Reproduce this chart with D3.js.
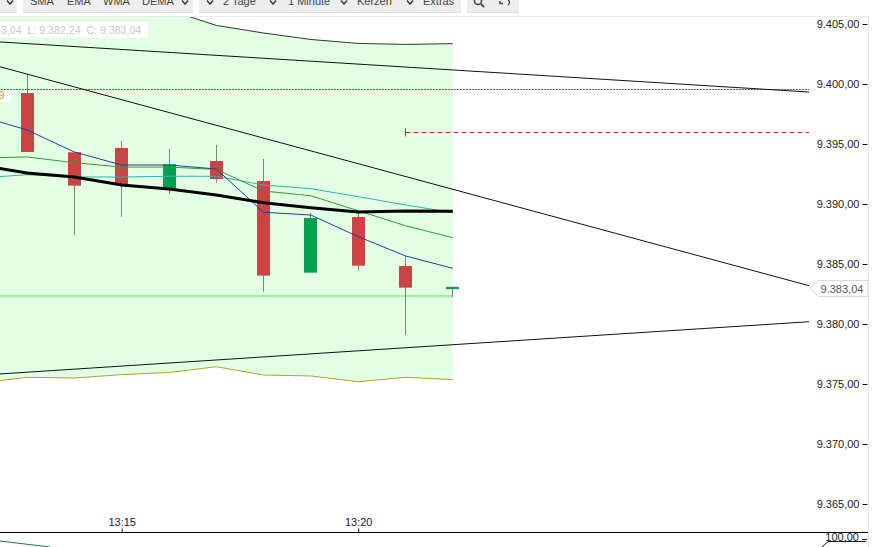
<!DOCTYPE html>
<html><head><meta charset="utf-8">
<style>
html,body{margin:0;padding:0;background:#fff;overflow:hidden}
svg{display:block;font-family:"Liberation Sans",Arial,sans-serif;font-size:11px}
</style>
<script src="https://cdn.jsdelivr.net/npm/d3@7"></script>
</head><body><svg id="c" width="878" height="547"></svg>
<script>
// ---- data ----
const candleTimes = ["13:13","13:14","13:15","13:16","13:17","13:18","13:19","13:20","13:21","13:22"];
const opens  = [9399.25,9394.31,9394.67,9391.25,9393.58,9391.92,9384.28,9388.92,9384.83,9383.10];
const highs  = [9400.83,9394.31,9395.25,9394.58,9394.92,9393.75,9389.25,9389.33,9385.69,9383.10];
const lows   = [9394.33,9387.42,9388.94,9390.83,9391.78,9382.69,9384.28,9384.44,9379.08,9382.24];
const closes = [9394.33,9391.53,9391.63,9393.31,9392.08,9384.03,9388.83,9384.86,9383.03,9383.04];

const lineTimes = ["13:12","13:13","13:14","13:15","13:16","13:17","13:18","13:19","13:20","13:21","13:22"];
const maBlue  = [9397.33,9396.17,9394.33,9393.25,9393.25,9392.92,9389.31,9389.08,9387.28,9385.67,9384.64];
const maGreen = [9393.83,9393.92,9393.44,9393.08,9393.08,9392.88,9391.08,9390.69,9389.44,9388.19,9387.19];
const maCyan  = [9392.17,9392.44,9392.25,9392.25,9392.31,9392.31,9391.58,9391.28,9390.61,9389.92,9389.28];
const maBlack = [9393.25,9392.58,9392.25,9391.58,9391.25,9390.75,9390.11,9389.69,9389.33,9389.42,9389.39];
const bandUpper = [9412.0,9411.0,9410.0,9408.0,9406.17,9404.88,9404.25,9403.71,9403.38,9403.30,9403.36];
const bandLower = [9375.08,9375.56,9375.50,9375.78,9375.96,9376.44,9375.75,9375.67,9375.19,9375.56,9375.36];

const trendTimes = ["13:12:00","13:29:32"];
const trendA = [9403.61,9399.33];
const trendB = [9401.89,9383.19];
const trendC = [9375.73,9380.19];

const levelGreen = 9382.33, levelDotted = 9399.54, levelDashed = 9395.97;
const levelDashedStart = "13:21:00", chartEnd = "13:29:32", levelGreenEnd = "13:22:00", levelStart = "13:12:00";
const lastPrice = 9383.04;
const priceTicks = [9405,9400,9395,9390,9385,9380,9375,9370,9365];
const timeTicks = ["13:15","13:20"];
const ohlcText = "3,04  L: 9.382,24  C: 9.383,04";
const cutOffLabel = "9";
const toolGroups = ["SMA","EMA","WMA","DEMA","2 Tage","1 Minute","Kerzen","Extras"];
const lowerTickValue = "100,00";

// ---- helpers ----
const parse = s => { const p = s.split(":").map(Number); return new Date(2020,0,1,p[0],p[1],p[2]||0); };
const x = d3.scaleTime().domain([parse("13:15"),parse("13:20")]).range([121.7,358.2]);
const y = d3.scaleLinear().domain([9405,9365]).range([24,504]);
const de = d3.formatLocale({decimal:",",thousands:".",grouping:[3],currency:["","€"]});
const fmt = de.format(",.2f");
const svg = d3.select("#c");

svg.append("defs").append("clipPath").attr("id","plot").append("rect")
  .attr("x",0).attr("y",17).attr("width",868).attr("height",515);
const g = svg.append("g").attr("clip-path","url(#plot)");

// band fill
const bandRows = lineTimes.map((t,i)=>({t:parse(t),u:bandUpper[i],l:bandLower[i]}));
g.append("path").datum(bandRows).attr("fill","#e3ffe3")
  .attr("d",d3.area().x(d=>x(d.t)).y0(d=>y(d.l)).y1(d=>y(d.u)));

const line = d3.line().x(d=>x(d.t)).y(d=>y(d.v));
const series = (times,vals)=>times.map((t,i)=>({t:parse(t),v:vals[i]}));
const draw = (times,vals,color,w)=>g.append("path").datum(series(times,vals))
  .attr("fill","none").attr("stroke",color).attr("stroke-width",w).attr("d",line);

// levels
g.append("line").attr("x1",x(parse(levelStart))).attr("x2",x(parse(levelGreenEnd)))
  .attr("y1",y(levelGreen)).attr("y2",y(levelGreen)).attr("stroke","#86e886").attr("stroke-width",1.6);
g.append("line").attr("x1",x(parse(levelStart))).attr("x2",x(parse(chartEnd)))
  .attr("y1",Math.floor(y(levelDotted))+.5).attr("y2",Math.floor(y(levelDotted))+.5).attr("stroke","#a03a28").attr("stroke-width",1).attr("stroke-dasharray","2,1");
g.append("line").attr("x1",x(parse(levelDashedStart))).attr("x2",x(parse(chartEnd)))
  .attr("y1",Math.floor(y(levelDashed))+.5).attr("y2",Math.floor(y(levelDashed))+.5).attr("stroke","#a83a2a").attr("stroke-width",1).attr("stroke-dasharray","5,3");
g.append("line").attr("x1",x(parse(levelDashedStart))).attr("x2",x(parse(levelDashedStart)))
  .attr("y1",y(levelDashed)-4).attr("y2",y(levelDashed)+4).attr("stroke","#a83a2a");

// candles
const candles = candleTimes.map((t,i)=>({t:parse(t),o:opens[i],h:highs[i],l:lows[i],c:closes[i]}));
g.selectAll("line.w").data(candles).join("line").attr("class","w")
  .attr("x1",d=>Math.floor(x(d.t))+.5).attr("x2",d=>Math.floor(x(d.t))+.5)
  .attr("y1",d=>y(d.h)).attr("y2",d=>y(d.l)).attr("stroke","#738a73").attr("stroke-width",1);
g.selectAll("rect.b").data(candles).join("rect").attr("class","b")
  .attr("x",d=>Math.floor(x(d.t))-6).attr("width",13)
  .attr("y",d=>y(Math.max(d.o,d.c))).attr("height",d=>Math.max(2.4,Math.abs(y(d.o)-y(d.c))))
  .attr("fill",d=>d.c>=d.o?"#00a050":(d.o-d.c<0.1?"#109868":"#cb4343"));

// bands, trends, averages
draw(lineTimes,bandUpper,"#2a3a2a",1);
draw(lineTimes,bandLower,"#a8a820",1);
draw(lineTimes,maCyan,"#2fb3b3",1);
draw(lineTimes,maGreen,"#2fa02f",1);
draw(lineTimes,maBlue,"#24409c",1);
draw(lineTimes,maBlack,"#000",3);
draw(trendTimes,trendA,"#111",1);
draw(trendTimes,trendB,"#111",1);
draw(trendTimes,trendC,"#111",1);

// panel frame
svg.append("rect").attr("x",0).attr("y",16).attr("width",868).attr("height",1).attr("fill","#e9e9e9");
svg.append("rect").attr("x",868).attr("y",16).attr("width",1).attr("height",531).attr("fill","#e9e9e9");

// price axis
const yAxis = d3.axisLeft(y).tickValues(priceTicks).tickFormat(fmt).tickSize(5).tickPadding(3);
const ya = svg.append("g").attr("transform","translate(867.5,0)").call(yAxis);
ya.select(".domain").remove();
ya.selectAll("text").attr("font-family",'"Liberation Sans",Arial,sans-serif').attr("font-size",11).attr("fill","#222");
ya.selectAll("line").attr("stroke","#111");

// time axis
const xAxis = d3.axisTop(x).tickValues(timeTicks.map(parse)).tickFormat(d3.timeFormat("%H:%M")).tickSize(4).tickPadding(3);
const xa = svg.append("g").attr("transform","translate(0,532.5)").call(xAxis);
xa.select(".domain").attr("d","M0,0H868").attr("stroke","#000");
xa.selectAll("text").attr("font-family",'"Liberation Sans",Arial,sans-serif').attr("font-size",11).attr("fill","#222");
xa.selectAll("line").attr("stroke","#111");

// last price callout
const ly = Math.round(y(lastPrice))+.5;
svg.append("path").attr("d",`M810,${ly}L818.5,${ly-8}H868V${ly+8}H818.5Z`).attr("fill","#fff").attr("stroke","#d8d8d8");
svg.append("text").attr("x",842).attr("y",ly+4).attr("text-anchor","middle").attr("fill","#555").text(fmt(lastPrice));

// chart captions
svg.append("rect").attr("x",0).attr("y",22).attr("width",148).attr("height",16).attr("fill","#fff");
svg.append("text").attr("x",1).attr("y",34).attr("font-size",10.6).attr("fill","#c8c8c8").attr("xml:space","preserve").style("white-space","pre").text(ohlcText);
svg.append("rect").attr("x",0).attr("y",90).attr("width",11).attr("height",12).attr("fill","#fff");
svg.append("text").attr("x",4.5).attr("y",99).attr("text-anchor","end").attr("fill","#b5a800").text(cutOffLabel);

// lower panel
const lower = svg.append("g");
lower.append("path").attr("d","M0,541L50,547").attr("fill","none").attr("stroke","#1a7a3a");
lower.append("path").attr("d","M822,547L828,541.5H866").attr("fill","none").attr("stroke","#222");
lower.append("line").attr("x1",862).attr("x2",867).attr("y1",539.5).attr("y2",539.5).attr("stroke","#111");
lower.append("text").attr("x",859).attr("y",541).attr("text-anchor","end").attr("fill","#222").text(lowerTickValue);

// toolbar
const tb = svg.append("g");
[[0,16.5],[23,193],[199,461],[467,519]].forEach(b=>{
  tb.append("rect").attr("x",b[0]).attr("y",0).attr("width",b[1]-b[0]).attr("height",12.5).attr("fill","#eeeeee");
  tb.append("rect").attr("x",b[0]).attr("y",12).attr("width",b[1]-b[0]).attr("height",1).attr("fill","#dcdcdc");
});
const toolX = [30,67,103,142,223,288,357,423];
toolGroups.forEach((t,i)=>tb.append("text").attr("x",toolX[i]).attr("y",5).attr("fill","#444").text(t));
[10,185,210,273,344,410].forEach(cx=>tb.append("path")
  .attr("d",`M${cx-3},0.5L${cx},4L${cx+3},0.5`).attr("fill","none").attr("stroke","#444").attr("stroke-width",1.6));
tb.append("circle").attr("cx",478).attr("cy",1).attr("r",3.5).attr("fill","none").attr("stroke","#444").attr("stroke-width",1.5);
tb.append("path").attr("d","M481,4L484,7").attr("stroke","#444").attr("stroke-width",1.8);
tb.append("path").attr("d","M500,1V3.5H503M508,0C510,1 510,4 508,5").attr("fill","none").attr("stroke","#444").attr("stroke-width",1.3);
</script></body></html>
